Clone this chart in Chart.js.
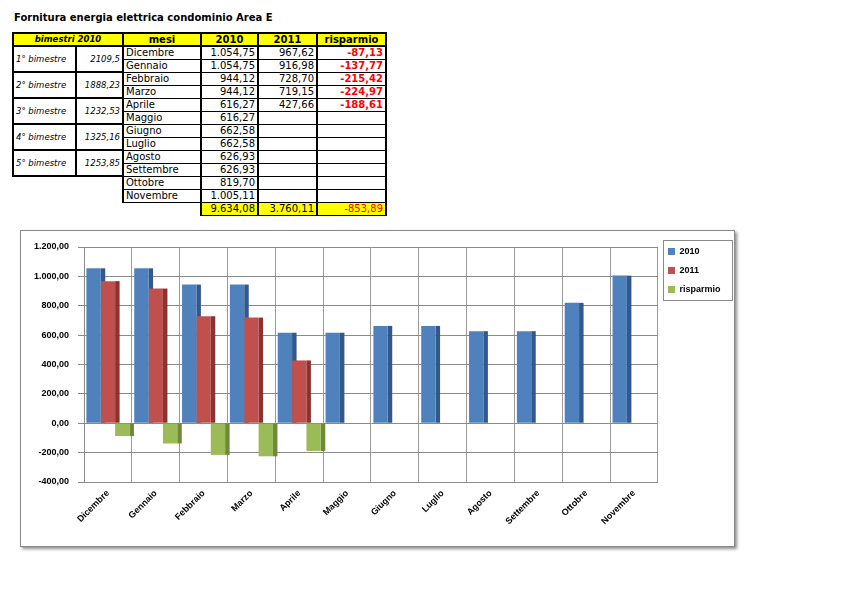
<!DOCTYPE html>
<html>
<head>
<meta charset="utf-8">
<script src="https://cdn.jsdelivr.net/npm/chart.js@4/dist/chart.umd.min.js"></script>
<style>
body { margin: 0; background: #fff; font-family: "DejaVu Sans", Verdana, sans-serif; }
#title { position: absolute; left: 14px; top: 12px; font-size: 10px; font-weight: bold; }
#tab { position: absolute; left: 12px; top: 32px; border-collapse: collapse; table-layout: fixed; font-size: 10px; }
#tab tr { height: 13px; }
#tab td { padding: 0 2px; line-height: 11px; border-top: 1px solid #000; border-bottom: 1px solid #000;
          border-left: 2px solid #000; border-right: 2px solid #000; white-space: nowrap; overflow: hidden; }
#tab td.e { border: none; }
#tab td.h { background: #ffff00; font-weight: bold; text-align: center; border-top: 2px solid #000; border-bottom: 2px solid #000; }
#tab td.hb { font-size: 8.5px; font-style: italic; }
#tab td.b { font-size: 8.5px; font-style: italic; border-top: 2px solid #000; border-bottom: 2px solid #000; }
#tab td.r { text-align: right; }
#tab td.red { color: #ff0000; font-weight: bold; }
#tab td.tot { background: #ffff00; text-align: right; }
#box { position: absolute; left: 20px; top: 230px; width: 715px; height: 317px; box-sizing: border-box;
       border: 1px solid #8a8a8a; box-shadow: 2px 2px 3px rgba(0,0,0,0.45); background: #fff; }
#myChart { display: block; }
</style>
</head>
<body>
<div id="title">Fornitura energia elettrica condominio Area E</div>
<table id="tab">
  <colgroup>
    <col style="width:63px"><col style="width:47px"><col style="width:78px">
    <col style="width:57px"><col style="width:59px"><col style="width:69px">
  </colgroup>
  <tbody id="tbody"></tbody>
</table>
<div id="box"><canvas id="myChart" width="713" height="315"></canvas></div>
<script>
var months = ['Dicembre', 'Gennaio', 'Febbraio', 'Marzo', 'Aprile', 'Maggio', 'Giugno', 'Luglio', 'Agosto', 'Settembre', 'Ottobre', 'Novembre'];
var values2010 = [1054.75, 1054.75, 944.12, 944.12, 616.27, 616.27, 662.58, 662.58, 626.93, 626.93, 819.70, 1005.11];
var values2011 = [967.62, 916.98, 728.70, 719.15, 427.66];
var risparmio = [-87.13, -137.77, -215.42, -224.97, -188.61];
var bimestri = ['1° bimestre', '2° bimestre', '3° bimestre', '4° bimestre', '5° bimestre'];
var bimestriValues = ['2109,5', '1888,23', '1232,53', '1325,16', '1253,85'];
var totals = [9634.08, 3760.11, -853.89];
var yMin = -400, yMax = 1200, yStep = 200;

var colors = ['#4f81bd', '#c0504d', '#9bbb59'];
var sideColors = ['#34588a', '#8a3431', '#6e8a39'];

// numero in formato italiano 1.234,56
function fmt(v) {
    var neg = v < 0;
    var parts = Math.abs(v).toFixed(2).split('.');
    var intPart = parts[0].replace(/\B(?=(\d{3})+(?!\d))/g, '.');
    return (neg ? '-' : '') + intPart + ',' + parts[1];
}

// tabella
var tbody = document.getElementById('tbody');
var html = '<tr><td class="h hb" colspan="2">bimestri 2010</td><td class="h">mesi</td>' +
    '<td class="h">2010</td><td class="h">2011</td><td class="h">risparmio</td></tr>';
for (var i = 0; i < months.length; i++) {
    html += '<tr>';
    if (i < bimestri.length * 2) {
        if (i % 2 == 0) {
            html += '<td class="b" rowspan="2">' + bimestri[i / 2] + '</td>';
            html += '<td class="b r" rowspan="2">' + bimestriValues[i / 2] + '</td>';
        }
    } else {
        html += '<td class="e"></td><td class="e"></td>';
    }
    html += '<td>' + months[i] + '</td>';
    html += '<td class="r">' + fmt(values2010[i]) + '</td>';
    html += '<td class="r">' + (values2011[i] != null ? fmt(values2011[i]) : '') + '</td>';
    html += '<td class="r red">' + (risparmio[i] != null ? fmt(risparmio[i]) : '') + '</td>';
    html += '</tr>';
}
html += '<tr><td class="e"></td><td class="e"></td><td class="e"></td>' +
    '<td class="tot">' + fmt(totals[0]) + '</td><td class="tot">' + fmt(totals[1]) + '</td>' +
    '<td class="tot" style="color:#ff0000">' + fmt(totals[2]) + '</td></tr>';
tbody.innerHTML = html;

// lato scuro delle barre (effetto 3D)
var barSides = {
    id: 'barSides',
    beforeDatasetsDraw: function (chart) {
        var ctx = chart.ctx;
        ctx.save();
        chart.data.datasets.forEach(function (ds, di) {
            var meta = chart.getDatasetMeta(di);
            ctx.fillStyle = sideColors[di];
            meta.data.forEach(function (bar, j) {
                if (ds.data[j] == null) return;
                var top = Math.min(bar.y, bar.base);
                var h = Math.abs(bar.base - bar.y);
                ctx.fillRect(bar.x + bar.width / 2, top, 4.5, h);
            });
        });
        ctx.restore();
    }
};

// cornice della legenda
var legendFrame = {
    id: 'legendFrame',
    afterDraw: function (chart) {
        var a = chart.chartArea;
        var ctx = chart.ctx;
        ctx.save();
        ctx.strokeStyle = '#8a8a8a';
        ctx.lineWidth = 1;
        ctx.strokeRect(Math.round(a.right) + 5.5, a.top - 6.5, 69, 60);
        ctx.restore();
    }
};

var tickFont = { family: 'Liberation Sans', size: 9, weight: 'bold' };

var ctx = document.getElementById('myChart').getContext('2d');
var myChart = new Chart(ctx, {
    type: 'bar',
    data: {
        labels: months,
        datasets: [{
            label: '2010',
            data: values2010,
            backgroundColor: colors[0]
        },
        {
            label: '2011',
            data: values2011,
            backgroundColor: colors[1]
        },
        {
            label: 'risparmio',
            data: risparmio,
            backgroundColor: colors[2]
        }]
    },
    options: {
        responsive: false,
        animation: false,
        layout: { padding: { top: 6, left: 0, right: 3.5, bottom: 0 } },
        datasets: { bar: { categoryPercentage: 0.9, barPercentage: 1 } },
        plugins: {
            tooltip: { enabled: false },
            legend: {
                position: 'right',
                align: 'start',
                labels: { boxWidth: 7, boxHeight: 7, padding: 10, color: '#000', font: tickFont }
            }
        },
        scales: {
            x: {
                grid: { color: '#9a9a9a', drawTicks: false },
                border: { color: '#8a8a8a' },
                ticks: { color: '#000', font: tickFont, minRotation: 45, maxRotation: 45, padding: 6 },
                afterFit: function (s) { s.height = 64; }
            },
            y: {
                min: yMin,
                max: yMax,
                grid: { color: '#8a8a8a', tickLength: 6 },
                border: { color: '#8a8a8a' },
                ticks: {
                    stepSize: yStep, color: '#000', font: tickFont, padding: 9,
                    callback: function (v) { return fmt(v); }
                },
                afterFit: function (s) { s.width = 63; s.paddingTop = 16; }
            }
        }
    },
    plugins: [barSides, legendFrame]
});
</script>
</body>
</html>
